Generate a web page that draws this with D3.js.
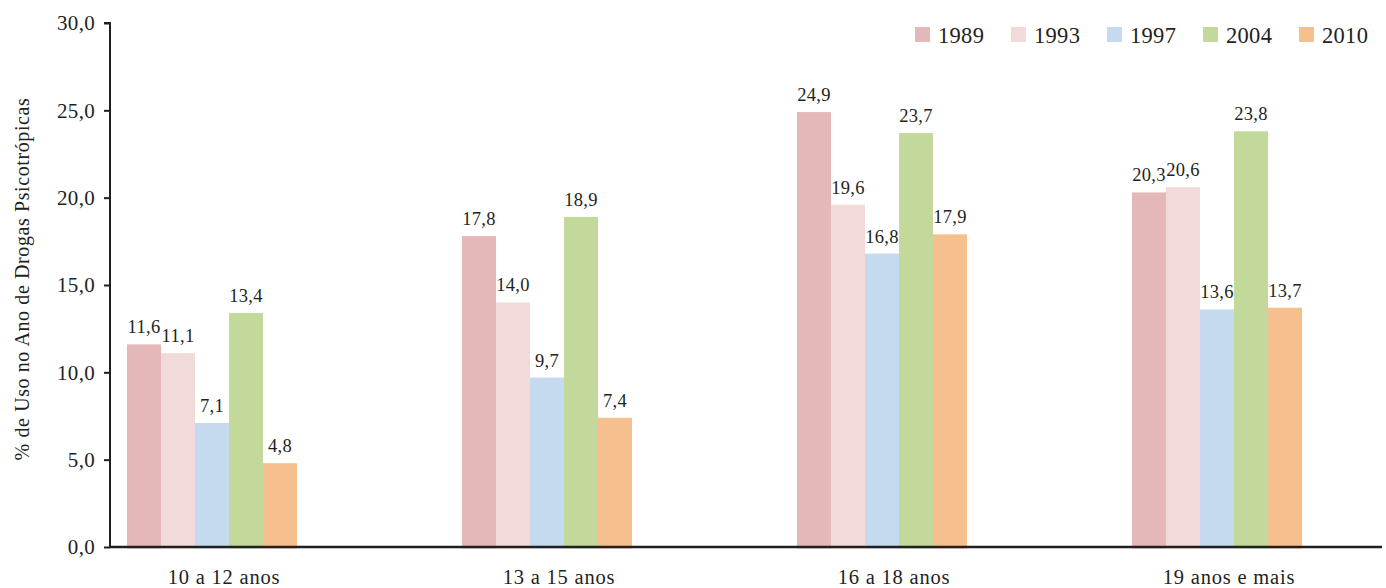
<!DOCTYPE html>
<html><head><meta charset="utf-8">
<script src="https://cdn.jsdelivr.net/npm/d3@7"></script>
<style>body{margin:0;background:#fff}svg text{font-family:"Liberation Serif","DejaVu Serif",serif;fill:#231f20}</style>
</head><body><svg id="c" width="1386" height="588"></svg>
<script>
const categories = ["10 a 12 anos","13 a 15 anos","16 a 18 anos","19 anos e mais"];
const years = ["1989","1993","1997","2004","2010"];
const v1989 = [11.6,17.8,24.9,20.3];
const v1993 = [11.1,14.0,19.6,20.6];
const v1997 = [7.1,9.7,16.8,13.6];
const v2004 = [13.4,18.9,23.7,23.8];
const v2010 = [4.8,7.4,17.9,13.7];
const yTicks = [0,5,10,15,20,25,30];
const colors = ["#e4b8b8","#f3dada","#c5daef","#c3d99c","#f5bf8e"];
const series = [v1989,v1993,v1997,v2004,v2010];
const FF = "Liberation Serif";

const svg = d3.select("#c");
const axisX = 110, y0 = 547, y1 = 23, right = 1382;
const y = d3.scaleLinear().domain([0,30]).range([y0,y1]);
const x0 = d3.scaleBand().domain(categories).range([127,1302]).paddingInner(0.4925).paddingOuter(0);
const x1 = d3.scaleBand().domain(years).range([0,x0.bandwidth()]);
const color = d3.scaleOrdinal().domain(years).range(colors);
const fmt = v => d3.format(".1f")(v).replace(".",",");

const g = svg.append("g");
categories.forEach((c,ci)=>{
  years.forEach((yr,si)=>{
    const v = series[si][ci];
    g.append("rect").attr("x",x0(c)+x1(yr)).attr("y",y(v)).attr("width",x1.bandwidth()).attr("height",y0-y(v)+1.5).attr("fill",color(yr));
    g.append("text").attr("x",x0(c)+x1(yr)+x1.bandwidth()/2).attr("y",y(v)-11).attr("text-anchor","middle")
      .attr("font-family",FF).attr("font-size",18.5).attr("letter-spacing",0.3).text(fmt(v));
  });
  svg.append("text").attr("x",x0(c)+x0.bandwidth()/2+12).attr("y",584).attr("text-anchor","middle")
    .attr("font-family",FF).attr("font-size",20.5).attr("letter-spacing",0.8).text(c);
});

// y axis
const ya = svg.append("g").attr("transform",`translate(${axisX},0)`)
  .call(d3.axisLeft(y).tickValues(yTicks).tickSize(6).tickPadding(9).tickFormat(fmt));
ya.attr("font-family",FF);
ya.select(".domain").attr("stroke","#231f20").attr("stroke-width",2).attr("d",`M-6,${y1}H0V${y0}`);
ya.selectAll(".tick line").attr("stroke","#231f20").attr("stroke-width",2);
ya.selectAll(".tick text").attr("font-size",21).attr("font-family",FF).attr("fill","#231f20").attr("letter-spacing",0.3);
// x axis line
svg.append("line").attr("x1",axisX-1).attr("x2",right).attr("y1",y0).attr("y2",y0).attr("stroke","#231f20").attr("stroke-width",2.5);

svg.append("text").attr("transform","translate(29,279) rotate(-90)").attr("text-anchor","middle")
  .attr("font-family",FF).attr("font-size",20).attr("letter-spacing",0.6).text("% de Uso no Ano de Drogas Psicotrópicas");

// legend
const lg = svg.append("g");
years.forEach((yr,i)=>{
  const lx = 915 + i*96;
  lg.append("rect").attr("x",lx).attr("y",27).attr("width",15).attr("height",15).attr("fill",color(yr));
  lg.append("text").attr("x",lx+23).attr("y",43).attr("font-family",FF).attr("font-size",22.5).attr("letter-spacing",0.3).text(yr);
});
</script></body></html>
